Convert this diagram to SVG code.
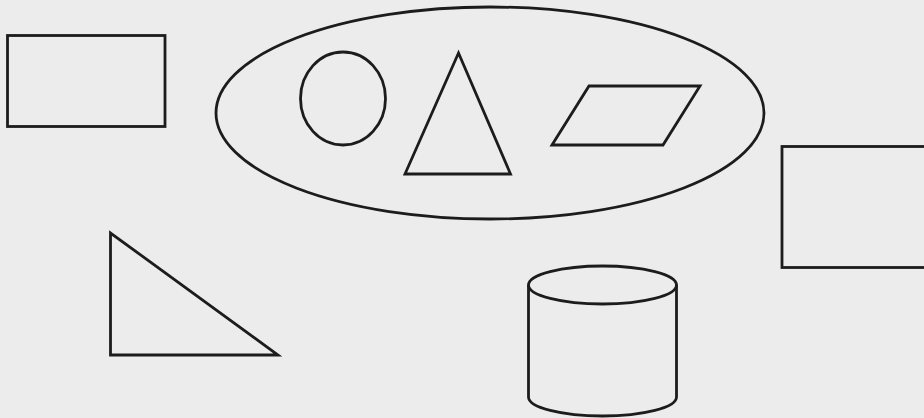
<svg xmlns="http://www.w3.org/2000/svg" width="924" height="418" viewBox="0 0 924 418">
  <style>
    .s { fill: none; stroke: #1c1c1c; stroke-width: 2.8; stroke-linejoin: miter; }
  </style>
  <rect x="0" y="0" width="924" height="418" fill="#ececec"/>
  <g id="rect-top-left"><rect class="s" x="7.5" y="35.5" width="157.5" height="91"/></g>
  <g id="big-ellipse"><ellipse class="s" cx="490" cy="113" rx="274" ry="106"/></g>
  <g id="circle"><ellipse class="s" cx="343" cy="98.5" rx="42.5" ry="46.5"/></g>
  <g id="triangle"><polygon class="s" points="458.5,53 405,174 510.5,174"/></g>
  <g id="parallelogram"><polygon class="s" points="552,145 589,86 700,86 663,145"/></g>
  <g id="rect-right"><rect class="s" x="782" y="146.5" width="150" height="121"/></g>
  <g id="right-triangle"><polygon class="s" points="110.5,233 110.5,355 278,355"/></g>
  <g id="cylinder">
    <ellipse class="s" cx="602.5" cy="285" rx="74" ry="19"/>
    <path class="s" d="M528.5,285 L528.5,397 A74,19 0 0 0 676.5,397 L676.5,285"/>
  </g>
</svg>
